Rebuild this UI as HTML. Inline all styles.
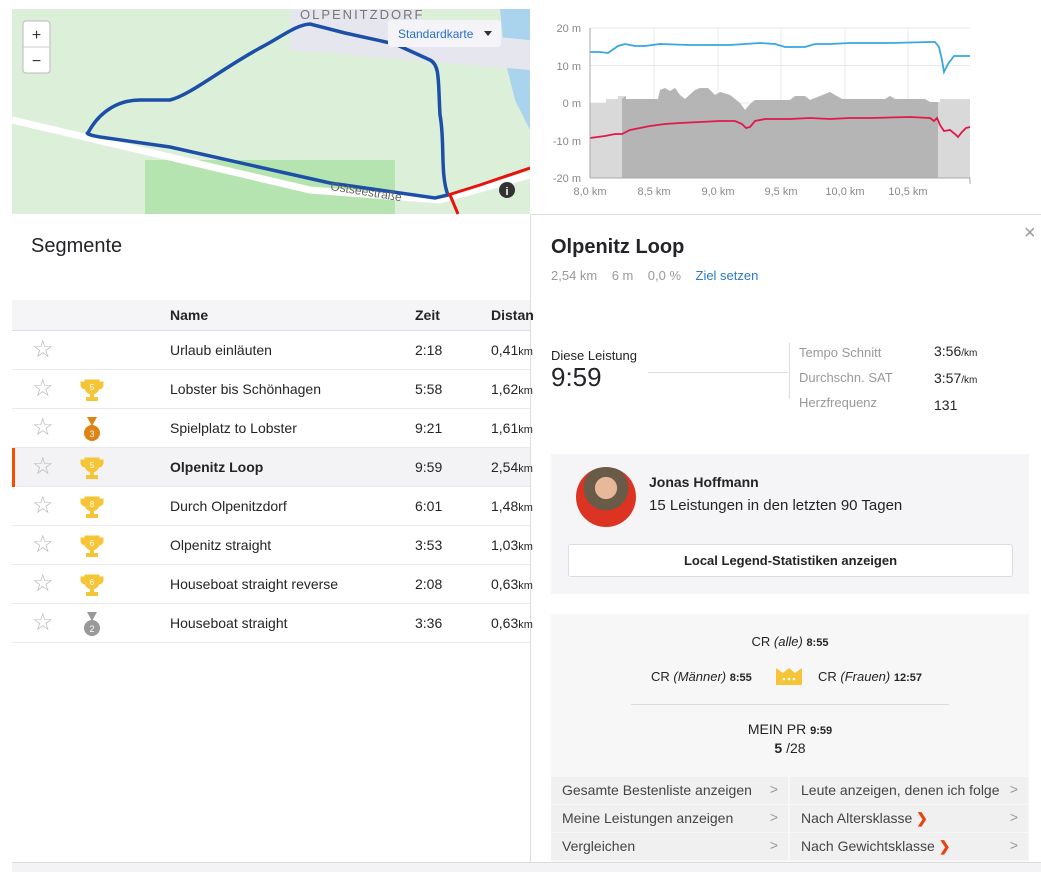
<!DOCTYPE html>
<html><head><meta charset="utf-8">
<style>
*{box-sizing:border-box;margin:0;padding:0}
body{width:1041px;height:872px;overflow:hidden;background:#fff;font-family:"Liberation Sans",sans-serif;color:#242428;position:relative}
.abs{position:absolute}
.row{position:absolute;left:12px;width:518px;height:39px;border-bottom:1px solid #eaeaee;font-size:14px}
.row span{position:absolute;top:11px}
.row .n{left:158px}.row .t{left:403px}.row .d{left:479px}
.row small{font-size:11px}
.star{position:absolute;left:20px;top:7px;font-size:24px;color:#b8b8b8;line-height:24px}
.cup{position:absolute;left:68px;top:8px}
.btn{position:absolute;height:27px;background:#f0f0f0;font-size:14px;color:#444;padding:5px 0 0 11px}
.btn b{position:absolute;right:10px;top:4px;font-weight:normal;color:#999}
</style></head><body>
<!-- map -->
<svg class="abs" style="left:0;top:0" width="530" height="215">
<rect x="12" y="9" width="518" height="205" fill="#dcefd9"/>
<rect x="145" y="160" width="250" height="54" fill="#b5e4b0"/>
<path d="M500 9 L530 9 L530 130 L515 100 L505 60 Z" fill="#aad3ee"/>
<path d="M12 120 L310 190 L440 200 L530 175" stroke="#fff" stroke-width="7" fill="none"/>
<path d="M290 9 L290 50 L530 70 L530 40 L420 30 L420 9Z" fill="#e6e6ee"/>
<path d="M88 133 C100 110 120 100 140 100 L170 100 C190 95 220 70 260 48 C280 38 295 25 310 24 L345 33 L395 44 L430 60 C440 65 438 80 440 115 C445 140 440 175 448 195 L435 198 L330 183 L170 147 L100 137 C88 135 86 133 88 133Z" stroke="#1c4fa8" stroke-width="3.5" fill="none"/>
<path d="M448 195 L480 185 L530 168 M450 195 L458 214" stroke="#e8120c" stroke-width="3" fill="none"/>
<text x="300" y="19" font-size="13" fill="#777" letter-spacing="2">OLPENITZDORF</text>
<text x="330" y="190" font-size="12" fill="#666" transform="rotate(9 330 190)">Ostseestraße</text>
<rect x="23" y="21" width="27" height="52" rx="3" fill="#fff" stroke="#bbb"/>
<line x1="23" y1="47" x2="50" y2="47" stroke="#ccc"/>
<text x="36.5" y="40" font-size="16" text-anchor="middle" fill="#333">+</text>
<text x="36.5" y="66" font-size="16" text-anchor="middle" fill="#333">−</text>
<rect x="388" y="20" width="113" height="27" rx="3" fill="#f4f4f8"/>
<text x="398" y="38" font-size="12" fill="#2a6fc9">Standardkarte</text>
<path d="M484 31 L492 31 L488 36Z" fill="#333"/>
<circle cx="507" cy="190" r="8" fill="#333"/><text x="507" y="195" font-size="11" font-weight="bold" fill="#fff" text-anchor="middle">i</text>
</svg>
<!-- chart -->
<svg class="abs" style="left:530px;top:0" width="511" height="215">
<g stroke="#e8e8e8"><line x1="60" y1="28" x2="440" y2="28"/><line x1="60" y1="65.5" x2="440" y2="65.5"/><line x1="60" y1="103" x2="440" y2="103"/><line x1="60" y1="140.5" x2="440" y2="140.5"/>
<line x1="124" y1="28" x2="124" y2="178"/><line x1="188" y1="28" x2="188" y2="178"/><line x1="251" y1="28" x2="251" y2="178"/><line x1="315" y1="28" x2="315" y2="178"/><line x1="378" y1="28" x2="378" y2="178"/></g>
<path d="M60 103 L76 103 L76 99 L88 99 L88 96 L96 96 L96 99 L128 99 L130 90 L135 88 L140 91 L145 88 L150 95 L155 99 L165 90 L170 88 L178 88 L185 95 L190 92 L200 95 L210 103 L215 110 L220 104 L225 100 L260 100 L265 96 L275 96 L280 100 L290 96 L300 92 L305 95 L312 99 L355 99 L360 96 L365 99 L395 99 L400 102 L410 102 L410 99 L440 99 L440 178 L60 178Z" fill="#d9d9d9"/>
<path d="M92 99 L96 96 L96 99 L128 99 L130 90 L135 88 L140 91 L145 88 L150 95 L155 99 L165 90 L170 88 L178 88 L185 95 L190 92 L200 95 L210 103 L215 110 L220 104 L225 100 L260 100 L265 96 L275 96 L280 100 L290 96 L300 92 L305 95 L312 99 L355 99 L360 96 L365 99 L395 99 L400 102 L408 102 L408 178 L92 178Z" fill="#b5b5b5"/>
<polyline points="60,52 70,52 78,53 88,46 95,44 105,46 115,46 130,44 160,45 200,45 215,44 230,43 245,44 255,47 265,47 275,47 285,44 300,44 320,43 360,43 400,42 405,42 409,47 412,60 414,72 418,64 424,56 440,56" fill="none" stroke="#36a7e0" stroke-width="1.8"/>
<polyline points="60,138 75,136 85,134 92,134 100,130 110,128 120,126 135,124 150,123 170,122 190,121 200,121 205,121 212,124 216,128 220,127 225,121 235,119 260,119 280,118 300,119 320,118 340,118 380,117 400,118 404,121 407,118 410,125 414,131 420,130 425,134 428,137 432,132 436,128 440,127" fill="none" stroke="#e0194b" stroke-width="1.8"/>
<line x1="60" y1="28" x2="60" y2="178" stroke="#aaa"/><line x1="60" y1="178" x2="440" y2="178" stroke="#aaa"/><line x1="440" y1="178" x2="440" y2="184" stroke="#aaa"/>
<g font-size="11" fill="#888" text-anchor="end"><text x="51" y="32">20 m</text><text x="51" y="70">10 m</text><text x="51" y="107">0 m</text><text x="51" y="145">-10 m</text><text x="51" y="182">-20 m</text></g>
<g font-size="11" fill="#888" text-anchor="middle"><text x="60" y="195">8,0 km</text><text x="124" y="195">8,5 km</text><text x="188" y="195">9,0 km</text><text x="251" y="195">9,5 km</text><text x="315" y="195">10,0 km</text><text x="378" y="195">10,5 km</text></g>
</svg>
<div class="abs" style="left:530px;top:214px;width:511px;height:1px;background:#ddd"></div>
<div class="abs" style="left:530px;top:214px;width:1px;height:658px;background:#ddd"></div>
<!-- segments -->
<div class="abs" style="left:31px;top:235px;font-size:20px">Segmente</div>
<div class="abs" style="left:12px;top:300px;width:518px;height:31px;background:#f5f5f7;border-bottom:1px solid #dcdce2;font-size:14px;font-weight:bold">
<span class="abs" style="left:158px;top:7px">Name</span><span class="abs" style="left:403px;top:7px">Zeit</span><span class="abs" style="left:479px;top:7px">Distan</span></div>
<div class="row" style="top:331px"><div class="star">☆</div><span class="n">Urlaub einläuten</span><span class="t">2:18</span><span class="d">0,41<small>km</small></span></div>
<div class="row" style="top:370px"><div class="star">☆</div><svg class="cup" width="24" height="24"><path d="M5 2h14v7a7 7 0 0 1-14 0z M5 4H1v3a4 4 0 0 0 4 4M19 4h4v3a4 4 0 0 1-4 4" fill="#f6c437" stroke="#f6c437"/><rect x="10" y="15" width="4" height="4" fill="#f6c437"/><rect x="6" y="19" width="12" height="4" fill="#f6c437"/><text x="12" y="12" font-size="8" fill="#fff" text-anchor="middle">5</text></svg><span class="n">Lobster bis Schönhagen</span><span class="t">5:58</span><span class="d">1,62<small>km</small></span></div>
<div class="row" style="top:409px"><div class="star">☆</div><svg class="cup" width="24" height="26"><path d="M7 0h10l-5 9z" fill="#e08214"/><circle cx="12" cy="16" r="8" fill="#e08214"/><text x="12" y="20" font-size="9" fill="#fff" text-anchor="middle">3</text></svg><span class="n">Spielplatz to Lobster</span><span class="t">9:21</span><span class="d">1,61<small>km</small></span></div>
<div class="row" style="top:448px;background:#f3f3f5"><div class="abs" style="left:0;top:0;width:3px;height:39px;background:#fc4c02"></div><div class="star">☆</div><svg class="cup" width="24" height="24"><path d="M5 2h14v7a7 7 0 0 1-14 0z M5 4H1v3a4 4 0 0 0 4 4M19 4h4v3a4 4 0 0 1-4 4" fill="#f6c437" stroke="#f6c437"/><rect x="10" y="15" width="4" height="4" fill="#f6c437"/><rect x="6" y="19" width="12" height="4" fill="#f6c437"/><text x="12" y="12" font-size="8" fill="#fff" text-anchor="middle">5</text></svg><span class="n" style="font-weight:bold">Olpenitz Loop</span><span class="t">9:59</span><span class="d">2,54<small>km</small></span></div>
<div class="row" style="top:487px"><div class="star">☆</div><svg class="cup" width="24" height="24"><path d="M5 2h14v7a7 7 0 0 1-14 0z M5 4H1v3a4 4 0 0 0 4 4M19 4h4v3a4 4 0 0 1-4 4" fill="#f6c437" stroke="#f6c437"/><rect x="10" y="15" width="4" height="4" fill="#f6c437"/><rect x="6" y="19" width="12" height="4" fill="#f6c437"/><text x="12" y="12" font-size="8" fill="#fff" text-anchor="middle">8</text></svg><span class="n">Durch Olpenitzdorf</span><span class="t">6:01</span><span class="d">1,48<small>km</small></span></div>
<div class="row" style="top:526px"><div class="star">☆</div><svg class="cup" width="24" height="24"><path d="M5 2h14v7a7 7 0 0 1-14 0z M5 4H1v3a4 4 0 0 0 4 4M19 4h4v3a4 4 0 0 1-4 4" fill="#f6c437" stroke="#f6c437"/><rect x="10" y="15" width="4" height="4" fill="#f6c437"/><rect x="6" y="19" width="12" height="4" fill="#f6c437"/><text x="12" y="12" font-size="8" fill="#fff" text-anchor="middle">6</text></svg><span class="n">Olpenitz straight</span><span class="t">3:53</span><span class="d">1,03<small>km</small></span></div>
<div class="row" style="top:565px"><div class="star">☆</div><svg class="cup" width="24" height="24"><path d="M5 2h14v7a7 7 0 0 1-14 0z M5 4H1v3a4 4 0 0 0 4 4M19 4h4v3a4 4 0 0 1-4 4" fill="#f6c437" stroke="#f6c437"/><rect x="10" y="15" width="4" height="4" fill="#f6c437"/><rect x="6" y="19" width="12" height="4" fill="#f6c437"/><text x="12" y="12" font-size="8" fill="#fff" text-anchor="middle">6</text></svg><span class="n">Houseboat straight reverse</span><span class="t">2:08</span><span class="d">0,63<small>km</small></span></div>
<div class="row" style="top:604px"><div class="star">☆</div><svg class="cup" width="24" height="26"><path d="M7 0h10l-5 9z" fill="#999"/><circle cx="12" cy="16" r="8" fill="#999"/><text x="12" y="20" font-size="9" fill="#fff" text-anchor="middle">2</text></svg><span class="n">Houseboat straight</span><span class="t">3:36</span><span class="d">0,63<small>km</small></span></div>
<!-- right panel -->
<div class="abs" style="left:1024px;top:222px;font-size:20px;color:#999">×</div>
<div class="abs" style="left:551px;top:236px;font-size:20px;font-weight:bold">Olpenitz Loop</div>
<div class="abs" style="left:551px;top:268px;font-size:13px;color:#999">2,54 km&nbsp;&nbsp;&nbsp;&nbsp;6 m&nbsp;&nbsp;&nbsp;&nbsp;0,0 %&nbsp;&nbsp;&nbsp;&nbsp;<span style="color:#2a7bc7">Ziel setzen</span></div>
<div class="abs" style="left:551px;top:348px;font-size:13px">Diese Leistung</div>
<div class="abs" style="left:551px;top:362px;font-size:26px">9:59</div>
<div class="abs" style="left:648px;top:372px;width:140px;height:1px;background:#ddd"></div>
<div class="abs" style="left:789px;top:343px;width:1px;height:56px;background:#ddd"></div>
<div class="abs" style="left:799px;top:340px;font-size:13px;color:#999;line-height:25px">Tempo Schnitt<br>Durchschn. SAT<br>Herzfrequenz</div>
<div class="abs" style="left:934px;top:339px;font-size:14px;line-height:25px">3:56<small style="font-size:10px">/km</small><br>3:57<small style="font-size:10px">/km</small><br>131</div>
<div class="abs" style="left:551px;top:454px;width:478px;height:140px;background:#f5f5f7"></div>
<div class="abs" style="left:576px;top:467px;width:60px;height:60px;border-radius:50%;background:radial-gradient(circle at 50% 35%,#e8b89a 0 22%,#6a5a48 23% 45%,#d32 46%)"></div>
<div class="abs" style="left:649px;top:474px;font-size:14px;font-weight:bold">Jonas Hoffmann</div>
<div class="abs" style="left:649px;top:497px;font-size:15px">15 Leistungen in den letzten 90 Tagen</div>
<div class="abs" style="left:568px;top:544px;width:445px;height:33px;background:#fff;border:1px solid #ddd;border-radius:3px;font-size:13px;font-weight:bold;text-align:center;padding-top:8px">Local Legend-Statistiken anzeigen</div>
<div class="abs" style="left:551px;top:614px;width:478px;height:248px;background:#f7f7f7"></div>
<div class="abs" style="left:551px;top:634px;width:478px;text-align:center;font-size:13px">CR <i>(alle)</i> <b style="font-size:11px">8:55</b></div>
<div class="abs" style="left:651px;top:669px;font-size:13px">CR <i>(Männer)</i> <b style="font-size:11px">8:55</b></div>
<svg class="abs" style="left:775px;top:667px" width="29" height="19"><path d="M1 1l7 5 6-5 6 5 7-5v17H1z" fill="#f6c437"/><circle cx="9" cy="12" r="1.3" fill="#fff"/><circle cx="14" cy="12" r="1.3" fill="#fff"/><circle cx="19" cy="12" r="1.3" fill="#fff"/></svg>
<div class="abs" style="left:818px;top:669px;font-size:13px">CR <i>(Frauen)</i> <b style="font-size:11px">12:57</b></div>
<div class="abs" style="left:631px;top:704px;width:318px;height:1px;background:#ddd"></div>
<div class="abs" style="left:551px;top:721px;width:478px;text-align:center;font-size:14px;line-height:17px">MEIN PR <b style="font-size:11px">9:59</b><br><b>5</b> /28</div>
<div class="btn" style="left:551px;top:777px;width:237px">Gesamte Bestenliste anzeigen<b>&gt;</b></div>
<div class="btn" style="left:790px;top:777px;width:238px;padding-left:11px">Leute anzeigen, denen ich folge<b>&gt;</b></div>
<div class="btn" style="left:551px;top:805px;width:237px">Meine Leistungen anzeigen<b>&gt;</b></div>
<div class="btn" style="left:790px;top:805px;width:238px">Nach Altersklasse <span style="color:#e8430f;font-weight:bold">❯</span><b>&gt;</b></div>
<div class="btn" style="left:551px;top:833px;width:237px">Vergleichen<b>&gt;</b></div>
<div class="btn" style="left:790px;top:833px;width:238px">Nach Gewichtsklasse <span style="color:#e8430f;font-weight:bold">❯</span><b>&gt;</b></div>
<div class="abs" style="left:12px;top:862px;width:1029px;height:10px;background:#f3f3f5;border-top:1px solid #ddd"></div>
</body></html>
